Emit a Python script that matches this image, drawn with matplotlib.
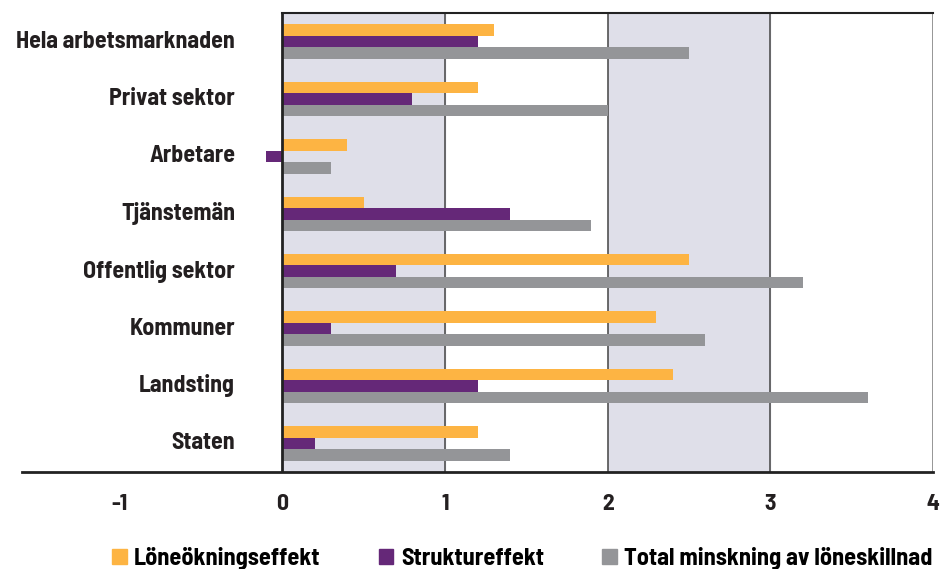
import matplotlib.pyplot as plt
from matplotlib.patches import Patch

plt.rcParams['font.family'] = ['Barlow Semi Condensed', 'Barlow Condensed', 'DejaVu Sans']
plt.rcParams['font.weight'] = 'bold'

# Kategorier uppifrån och ned
kategorier = ['Hela arbetsmarknaden', 'Privat sektor', 'Arbetare', 'Tjänstemän',
              'Offentlig sektor', 'Kommuner', 'Landsting', 'Staten']
loneokning = [1.3, 1.2, 0.4, 0.5, 2.5, 2.3, 2.4, 1.2]
struktur = [1.2, 0.8, -0.1, 1.4, 0.7, 0.3, 1.2, 0.2]
total = [2.5, 2.0, 0.3, 1.9, 3.2, 2.6, 3.6, 1.4]
serienamn = ['Löneökningseffekt', 'Struktureffekt', 'Total minskning av löneskillnad']
xticks = [-1, 0, 1, 2, 3, 4]

farger = ['#fdb443', '#652878', '#949598']

fig = plt.figure(figsize=(9.41, 5.69), dpi=100)
ax = fig.add_axes([22 / 941, 97 / 569, 911 / 941, 459 / 569])
ax.set_xlim(-1.6, 4.0)
ax.set_ylim(7.5, -0.5)

# skuggade fält 0-1 och 2-3
ax.axvspan(0, 1, color='#dfdfe9', zorder=0)
ax.axvspan(2, 3, color='#dfdfe9', zorder=0)
for x in [1, 2, 3]:
    ax.axvline(x, color='#444444', lw=1.1, zorder=1)
ax.axvline(4, color='#8c8c8c', lw=2, zorder=1)
ax.plot([0, 4], [-0.5, -0.5], color='#222222', lw=1.5, zorder=3, clip_on=False)

h = 0.2
y = range(len(kategorier))
for i, (serie, farg) in enumerate(zip([loneokning, struktur, total], farger)):
    ax.barh([k - h + i * h for k in y], serie, height=h, color=farg, zorder=2)

ax.axvline(0, color='#222222', lw=2, zorder=3)

for k, namn in enumerate(kategorier):
    ax.text(-0.29, k, namn, ha='right', va='center', fontsize=17.2,
            color='#231f20')

for s in ['top', 'left', 'right']:
    ax.spines[s].set_visible(False)
ax.spines['bottom'].set_linewidth(2)
ax.spines['bottom'].set_color('#222222')
ax.set_yticks([])
ax.set_xticks(xticks)
ax.set_xticklabels([str(t) for t in xticks], fontsize=17, color='#231f20')
ax.tick_params(axis='x', length=0, pad=16)

handles = [Patch(color=f) for f in farger]
fig.legend(handles, serienamn, loc='lower center', bbox_to_anchor=(0.555, -0.04),
           ncol=3, frameon=False, fontsize=17.5, handlelength=0.6,
           handleheight=0.6, handletextpad=0.3, columnspacing=2.4)

fig.savefig('out.png', dpi=100)
